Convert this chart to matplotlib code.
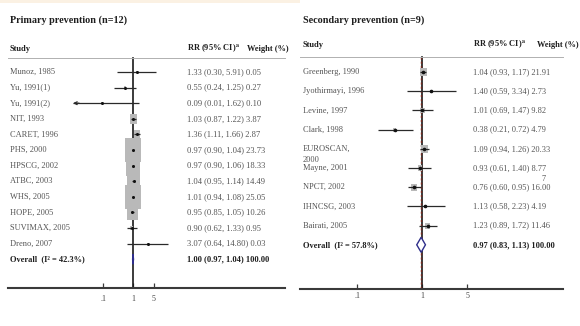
import matplotlib
matplotlib.use("Agg")
import matplotlib.pyplot as plt
import matplotlib.transforms as mtransforms
from matplotlib.path import Path
from matplotlib.patches import Polygon, Rectangle
from matplotlib.lines import Line2D

plt.rcParams['font.family'] = ['Liberation Serif', 'DejaVu Serif']
plt.rcParams['mathtext.fontset'] = 'stix'

# ---------------- data ----------------
p_title = "Primary prevention (n=12)"
p_studies = ["Munoz, 1985", "Yu, 1991(1)", "Yu, 1991(2)", "NIT, 1993", "CARET, 1996",
             "PHS, 2000", "HPSCG, 2002", "ATBC, 2003", "WHS, 2005", "HOPE, 2005",
             "SUVIMAX, 2005", "Dreno, 2007"]
p_rr = [1.33, 0.55, 0.09, 1.03, 1.36, 0.97, 0.97, 1.04, 1.01, 0.95, 0.90, 3.07]
p_lo = [0.30, 0.24, 0.01, 0.87, 1.11, 0.90, 0.90, 0.95, 0.94, 0.85, 0.62, 0.64]
p_hi = [5.91, 1.25, 1.62, 1.22, 1.66, 1.04, 1.06, 1.14, 1.08, 1.05, 1.33, 14.80]
p_weight = [0.05, 0.27, 0.10, 3.87, 2.87, 23.73, 18.33, 14.49, 25.05, 10.26, 0.95, 0.03]
p_weight_text = ["0.05", "0.27", "0.10", "3.87", "2.87", "23.73", "18.33", "14.49",
                 "25.05", "10.26", "0.95", "0.03"]
p_overall = (1.00, 0.97, 1.04)
p_i2 = 42.3

s_title = "Secondary prevention (n=9)"
s_studies = ["Greenberg, 1990", "Jyothirmayi, 1996", "Levine, 1997", "Clark, 1998",
             "EUROSCAN,\n2000", "Mayne, 2001", "NPCT, 2002", "IHNCSG, 2003", "Bairati, 2005"]
s_rr = [1.04, 1.40, 1.01, 0.38, 1.09, 0.93, 0.76, 1.13, 1.23]
s_lo = [0.93, 0.59, 0.69, 0.21, 0.94, 0.61, 0.60, 0.58, 0.89]
s_hi = [1.17, 3.34, 1.47, 0.72, 1.26, 1.40, 0.95, 2.23, 1.72]
s_weight = [21.91, 2.73, 9.82, 4.79, 20.33, 8.77, 16.00, 4.19, 11.46]
s_weight_text = ["21.91", "2.73", "9.82", "4.79", "20.33", "8.77\n7", "16.00", "4.19", "11.46"]
s_overall = (0.97, 0.83, 1.13)
s_i2 = 57.8

tick_values = [0.1, 1, 5]
tick_labels = [".1", "1", "5"]

# lower CI limits at or below this floor are drawn with an arrow head
ci_floor = 0.01

# ---------------- figure ----------------
W, H = 580, 326
fig = plt.figure(figsize=(W / 100, H / 100), dpi=100)
fig.patch.set_facecolor("white")

# faint warm strip along the top edge
fig.add_artist(Rectangle((0, 1 - 3 / H), 300 / W, 3 / H, transform=fig.transFigure,
                         facecolor="#fbeedc", edgecolor="none", alpha=0.8))

NAME_C = "#555555"
VAL_C = "#555555"
HEAD_C = "#1e1e1e"


def rect_marker(aspect):
    a = aspect / 2
    return Path([(-a, -0.5), (a, -0.5), (a, 0.5), (-a, 0.5), (-a, -0.5)], closed=True)


def panel(title, studies, rr, lo, hi, weight, weight_text, overall, i2, lay):
    x0, x1 = lay["x0"], lay["x1"]
    top, bot = lay["top"], lay["bot"]
    row0, step = lay["row0"], lay["step"]
    null_px, ppd = lay["null_px"], lay["ppd"]

    ax = fig.add_axes([x0 / W, 1 - bot / H, (x1 - x0) / W, (bot - top) / H])
    ax.set_xscale("log")
    ax.set_xlim(10 ** ((x0 - null_px) / ppd), 10 ** ((x1 - null_px) / ppd))
    ybot = (bot - row0) / step
    ytop = (top - row0) / step
    ax.set_ylim(ybot, ytop)
    ax.patch.set_alpha(0)
    for s in ("top", "left", "right"):
        ax.spines[s].set_visible(False)
    ax.spines["bottom"].set_color("#3a3a3a")
    ax.spines["bottom"].set_linewidth(1.5)
    ax.set_yticks([])
    ax.set_xticks(tick_values)
    ax.set_xticklabels(tick_labels)
    ax.xaxis.set_minor_locator(matplotlib.ticker.NullLocator())
    ax.tick_params(axis="x", direction="in", length=3.5, width=0.9, color="#3a3a3a",
                   labelsize=5.8, labelcolor="#444444", pad=lay["tickpad"])

    sep_y = (lay["sep"] - row0) / step

    # null line
    ax.plot([1, 1], [sep_y, ybot], color="#1a1a1a", lw=1.2, zorder=2, clip_on=False)
    if lay["show_pooled_line"]:
        ax.plot([overall[0]] * 2, [sep_y, ybot], color="#7a2a20", lw=1.0,
                ls=(0, (1.5, 1.5)), zorder=2.1, clip_on=False)

    n = len(studies)
    ys = list(range(n))

    # weight boxes
    ax.scatter(rr, ys, s=[lay["box_k"] * w for w in weight], marker=rect_marker(lay["box_aspect"]),
               color="#b9b9b9", linewidths=0, zorder=3)

    # confidence intervals
    for i in ys:
        left = lo[i]
        ax.plot([left, hi[i]], [i, i], color="#2a2a2a", lw=0.9, zorder=4, solid_capstyle="butt")
        if left <= ci_floor:
            ax.annotate("", xy=(left, i), xytext=(left * 1.6, i),
                        arrowprops=dict(arrowstyle="->", color="#2a2a2a", lw=0.9,
                                        mutation_scale=5, shrinkA=0, shrinkB=0), zorder=4)
    ax.plot(rr, ys, "o", color="#111111", ms=lay["pt_ms"], zorder=5, mec="none")

    # pooled diamond
    orr, olo, ohi = overall
    h = lay["dia_h"] / step
    ax.add_patch(Polygon([(olo, n), (orr, n - h), (ohi, n), (orr, n + h)], closed=True,
                         facecolor="white", edgecolor="#2e2e8a", lw=1.0, zorder=6))

    # text columns
    tx = mtransforms.blended_transform_factory(fig.transFigure, ax.transData)
    line_step = 11 / step
    for i, name in enumerate(studies):
        for k, part in enumerate(name.split("\n")):
            ax.text(lay["name_x"] / W, i + k * line_step, part, transform=tx, ha="left",
                    va="center", fontsize=6.0, color=NAME_C)
        val = f"{rr[i]:.2f} ({lo[i]:.2f}, {hi[i]:.2f}) "
        wparts = weight_text[i].split("\n")
        t = ax.text(lay["val_x"] / W, i, val + wparts[0], transform=tx, ha="left",
                    va="center", fontsize=lay["val_fs"], color=VAL_C)
        if len(wparts) > 1:
            fig.canvas.draw()
            bb = t.get_window_extent()
            ax.text(bb.x1 / W, i + line_step, wparts[1], transform=tx, ha="right",
                    va="center", fontsize=lay["val_fs"], color=VAL_C)
    ax.text(lay["name_x"] / W, n, f"Overall  (I\u00b2 = {i2:.1f}%)", transform=tx, ha="left",
            va="center", fontsize=6.0, color=HEAD_C, fontweight="bold")
    ax.text(lay["val_x"] / W, n, f"{orr:.2f} ({olo:.2f}, {ohi:.2f}) 100.00", transform=tx,
            ha="left", va="center", fontsize=lay["val_fs"], color=HEAD_C, fontweight="bold")

    # headings
    fig.text(lay["name_x"] / W, 1 - lay["title_y"] / H, title, ha="left", va="center",
             fontsize=7.3, fontweight="bold", color=HEAD_C)
    hy = 1 - (lay["head_y"] + 2) / H
    fig.text(lay["name_x"] / W, hy, "Study", ha="left", va="baseline",
             fontsize=6, fontweight="bold", color=HEAD_C)
    fig.text(lay["val_x"] / W, hy, r"RR (95% CI)$^{\mathbf{a}}$", ha="left",
             va="baseline", fontsize=6, fontweight="bold", color=HEAD_C)
    fig.text(lay["wt_x"] / W, hy, "Weight (%)", ha="left", va="baseline",
             fontsize=6, fontweight="bold", color=HEAD_C)
    fig.add_artist(Line2D([x0 / W, lay["sep_x1"] / W], [1 - lay["sep"] / H] * 2,
                          transform=fig.transFigure, color="#b0b0b0", lw=0.7))
    return ax


panel(p_title, p_studies, p_rr, p_lo, p_hi, p_weight, p_weight_text, p_overall, p_i2,
      dict(x0=8, x1=285, top=40, bot=288, row0=72, step=15.6, null_px=133, ppd=30,
           sep=58, sep_x1=285, title_y=20, head_y=49, name_x=10, val_x=187, wt_x=247,
           box_k=11.9, box_aspect=0.69, pt_ms=2.2, dia_h=5, val_fs=6.1, tickpad=5,
           show_pooled_line=False))

panel(s_title, s_studies, s_rr, s_lo, s_hi, s_weight, s_weight_text, s_overall, s_i2,
      dict(x0=300, x1=563, top=40, bot=289, row0=72, step=19.2, null_px=422, ppd=65,
           sep=57, sep_x1=563, title_y=20, head_y=45, name_x=303, val_x=473, wt_x=537,
           box_k=1.6, box_aspect=0.85, pt_ms=2.6, dia_h=7.5, val_fs=6.0, tickpad=2.5,
           show_pooled_line=True))

fig.savefig("out.png", dpi=100, facecolor="white")
